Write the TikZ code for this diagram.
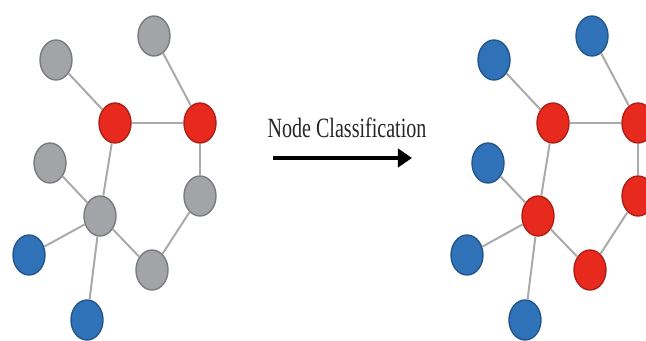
\documentclass[tikz,border=0pt]{standalone}
\usepackage{fontspec}
\setmainfont{Liberation Serif}
\usetikzlibrary{shapes.geometric,arrows.meta}
\definecolor{nodegray}{HTML}{A2A4A7}
\definecolor{nodered}{HTML}{E8291E}
\definecolor{nodeblue}{HTML}{2F72B8}
\definecolor{edgegray}{HTML}{AAAAAA}

\begin{document}
\begin{tikzpicture}[x=0.03cm,y=-0.03cm,
  vert/.style={ellipse,draw=#1!75!black,fill=#1,line width=1.2pt,
    minimum width=0.96cm,minimum height=1.2cm,inner sep=0pt},
  link/.style={draw=edgegray,line width=1.7pt}]
  \useasboundingbox (0,0) rectangle (646,341);
  % graph before classification, mostly unlabelled (gray)
  \foreach \n/\x/\y/\c in {a/56/60/nodegray,b/154/36/nodegray,c/115/123/nodered,
      d/200/123/nodered,e/50/163/nodegray,f/100/216/nodegray,g/200/196/nodegray,
      h/152/270/nodegray,i/29/255/nodeblue,j/87/320/nodeblue} {
    \node[vert=\c] (L\n) at (\x,\y) {};
  }
  % same graph after classification, shifted right
  \foreach \n/\x/\y/\c in {a/56/60/nodeblue,b/154/36/nodeblue,c/115/123/nodered,
      d/200/123/nodered,e/50/163/nodeblue,f/100/216/nodered,g/200/196/nodered,
      h/152/270/nodered,i/29/255/nodeblue,j/87/320/nodeblue} {
    \node[vert=\c] (R\n) at (\x+438,\y) {};
  }
  % edges, identical in both graphs
  \foreach \u/\v in {a/c,b/d,c/d,c/f,e/f,f/i,f/j,f/h,h/g,g/d} {
    \draw[link] (L\u) -- (L\v);
    \draw[link] (R\u) -- (R\v);
  }
  % label and arrow between them
  \node[font=\fontsize{23.8}{28}\selectfont,xscale=0.72,anchor=base,text=black!85] (label) at (347,138) {Node Classification};
  \coordinate (from) at (273,158);
  \coordinate (to) at (412,158);
  \draw[line width=4.25pt,-{Triangle[length=12pt,width=15.5pt]}] (from) -- (to);
\end{tikzpicture}
\end{document}
